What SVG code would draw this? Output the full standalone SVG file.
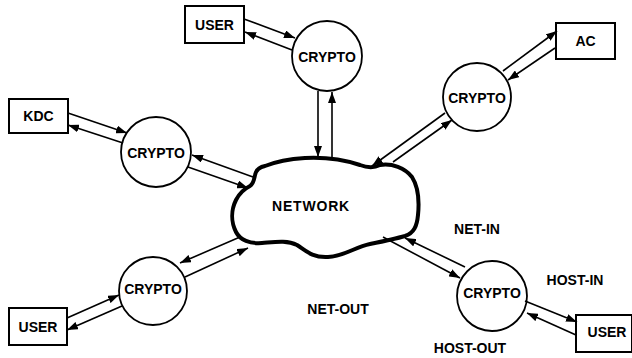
<svg xmlns="http://www.w3.org/2000/svg" width="632" height="358" viewBox="0 0 632 358">
<defs>
<marker id="ah" markerUnits="userSpaceOnUse" markerWidth="11" markerHeight="8" refX="11" refY="4" orient="auto">
<path d="M0,0 L11,4 L0,8 z" fill="#000"/>
</marker>
<style>
.box{fill:#fff;stroke:#000;stroke-width:2}
.circ{fill:#fff;stroke:#000;stroke-width:1.8}
.lbl{font-family:"Liberation Sans",Arial,sans-serif;font-weight:bold;font-size:14px;text-anchor:middle;dominant-baseline:central;fill:#000}
.con line{stroke:#000;stroke-width:1.6;marker-end:url(#ah)}
.cloud{fill:#fff;stroke:#000;stroke-width:4;stroke-linejoin:round}
</style>
</defs>
<rect width="632" height="358" fill="#fff"/>
<g id="network">
<path class="cloud" d="M255,175 C256,170 260,167 265,166 C275,162 290,159 305,158 C325,157 345,160 360,165 C368,168 374,168 380,165 C392,163 405,168 412,177 C419,188 419,205 418,215 C417,226 414,233 405,236 C395,239 385,241 370,244 C355,247 345,256 328,257 C312,258 305,250 297,245 C287,240 275,242 262,243 C250,244 240,240 236,232 C231,222 231,210 236,200 C240,192 246,188 250,186 C254,183 254,179 255,175 Z"/>
<text class="lbl" x="311" y="206" letter-spacing="0.8">NETWORK</text>
</g>
<g id="user-top">
<rect class="box" x="185" y="6" width="59" height="37"/>
<text class="lbl" x="214.5" y="25">USER</text>
</g>
<g id="crypto-top">
<circle class="circ" cx="327" cy="56" r="35"/>
<text class="lbl" x="327" y="57">CRYPTO</text>
</g>
<g id="ac">
<rect class="box" x="556" y="23" width="59" height="36"/>
<text class="lbl" x="585.5" y="41">AC</text>
</g>
<g id="crypto-right">
<circle class="circ" cx="477" cy="97" r="34"/>
<text class="lbl" x="477" y="98">CRYPTO</text>
</g>
<g id="kdc">
<rect class="box" x="9" y="99" width="59" height="34"/>
<text class="lbl" x="38.5" y="116">KDC</text>
</g>
<g id="crypto-left">
<circle class="circ" cx="156" cy="152" r="35"/>
<text class="lbl" x="156" y="153">CRYPTO</text>
</g>
<g id="crypto-bottom-left">
<circle class="circ" cx="153" cy="291" r="34"/>
<text class="lbl" x="153" y="289">CRYPTO</text>
</g>
<g id="user-bottom-left">
<rect class="box" x="9" y="308" width="58" height="37"/>
<text class="lbl" x="38" y="327">USER</text>
</g>
<g id="crypto-bottom-right">
<circle class="circ" cx="492" cy="296" r="35"/>
<text class="lbl" x="492" y="293">CRYPTO</text>
</g>
<g id="user-bottom-right">
<rect class="box" x="576" y="315" width="56" height="37"/>
<text class="lbl" x="607" y="332">USER</text>
</g>
<g id="connectors" class="con">
<line x1="244" y1="19" x2="295" y2="38"/>
<line x1="292" y1="50" x2="245" y2="32"/>
<line x1="318" y1="91" x2="318" y2="157"/>
<line x1="332" y1="158" x2="332" y2="92"/>
<line x1="503" y1="71" x2="557" y2="31"/>
<line x1="555" y1="48" x2="508" y2="80"/>
<line x1="445" y1="113" x2="372" y2="166"/>
<line x1="393" y1="162" x2="452" y2="120"/>
<line x1="68" y1="113" x2="127" y2="133"/>
<line x1="123" y1="143" x2="68" y2="125"/>
<line x1="188" y1="167" x2="248" y2="188"/>
<line x1="253" y1="177" x2="192" y2="155"/>
<line x1="185" y1="277" x2="248" y2="248"/>
<line x1="240" y1="237" x2="180" y2="263"/>
<line x1="67" y1="318" x2="119" y2="295"/>
<line x1="122" y1="306" x2="67" y2="330"/>
<line x1="383" y1="237" x2="460" y2="278"/>
<line x1="465" y1="267" x2="405" y2="238"/>
<line x1="525" y1="301" x2="577" y2="322"/>
<line x1="576" y1="335" x2="527" y2="313"/>
</g>
<g id="labels">
<text class="lbl" x="477" y="229">NET-IN</text>
<text class="lbl" x="575" y="280">HOST-IN</text>
<text class="lbl" x="338" y="309">NET-OUT</text>
<text class="lbl" x="470" y="348">HOST-OUT</text>
</g>
</svg>
